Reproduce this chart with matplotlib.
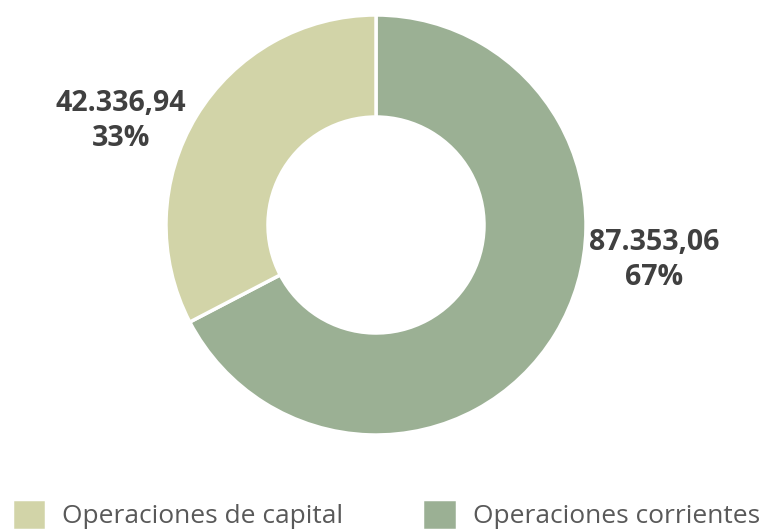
import matplotlib.pyplot as plt

# datos
categorias = ["Operaciones corrientes", "Operaciones de capital"]
valores = [87353.06, 42336.94]
etiquetas = ["87.353,06\n67%", "42.336,94\n33%"]
colores = ["#9BB094", "#D2D4A8"]

plt.rcParams['font.family'] = ['Open Sans', 'DejaVu Sans']

fig = plt.figure(figsize=(7.66, 5.31), dpi=100)
ax = fig.add_axes([0, 0, 1, 1])
ax.set_xlim(0, 766)
ax.set_ylim(0, 531)
ax.set_aspect('equal')
ax.axis('off')

wedges, _ = ax.pie(valores, colors=colores, startangle=90, counterclock=False,
                   center=(376, 306), radius=210,
                   wedgeprops=dict(width=102, edgecolor='white', linewidth=2.5))
ax.set_xlim(0, 766)
ax.set_ylim(0, 531)

# etiquetas de datos
ax.text(654, 271, etiquetas[0], ha='center', va='center', fontsize=20.5,
        fontweight='bold', color='#404040', linespacing=1.25)
ax.text(121, 410, etiquetas[1], ha='center', va='center', fontsize=20.5,
        fontweight='bold', color='#404040', linespacing=1.25)

# leyenda (capital primero)
leg = fig.legend([wedges[1], wedges[0]], [categorias[1], categorias[0]],
                 loc='upper left', bbox_to_anchor=(12 / 766, 1 - 499 / 531), ncol=2,
                 frameon=False, fontsize=19, handlelength=1.3, handleheight=1.45,
                 columnspacing=3.0, handletextpad=0.6, borderpad=0,
                 borderaxespad=0)
for t in leg.get_texts():
    t.set_color('#595959')

fig.savefig('out.png', dpi=100)
